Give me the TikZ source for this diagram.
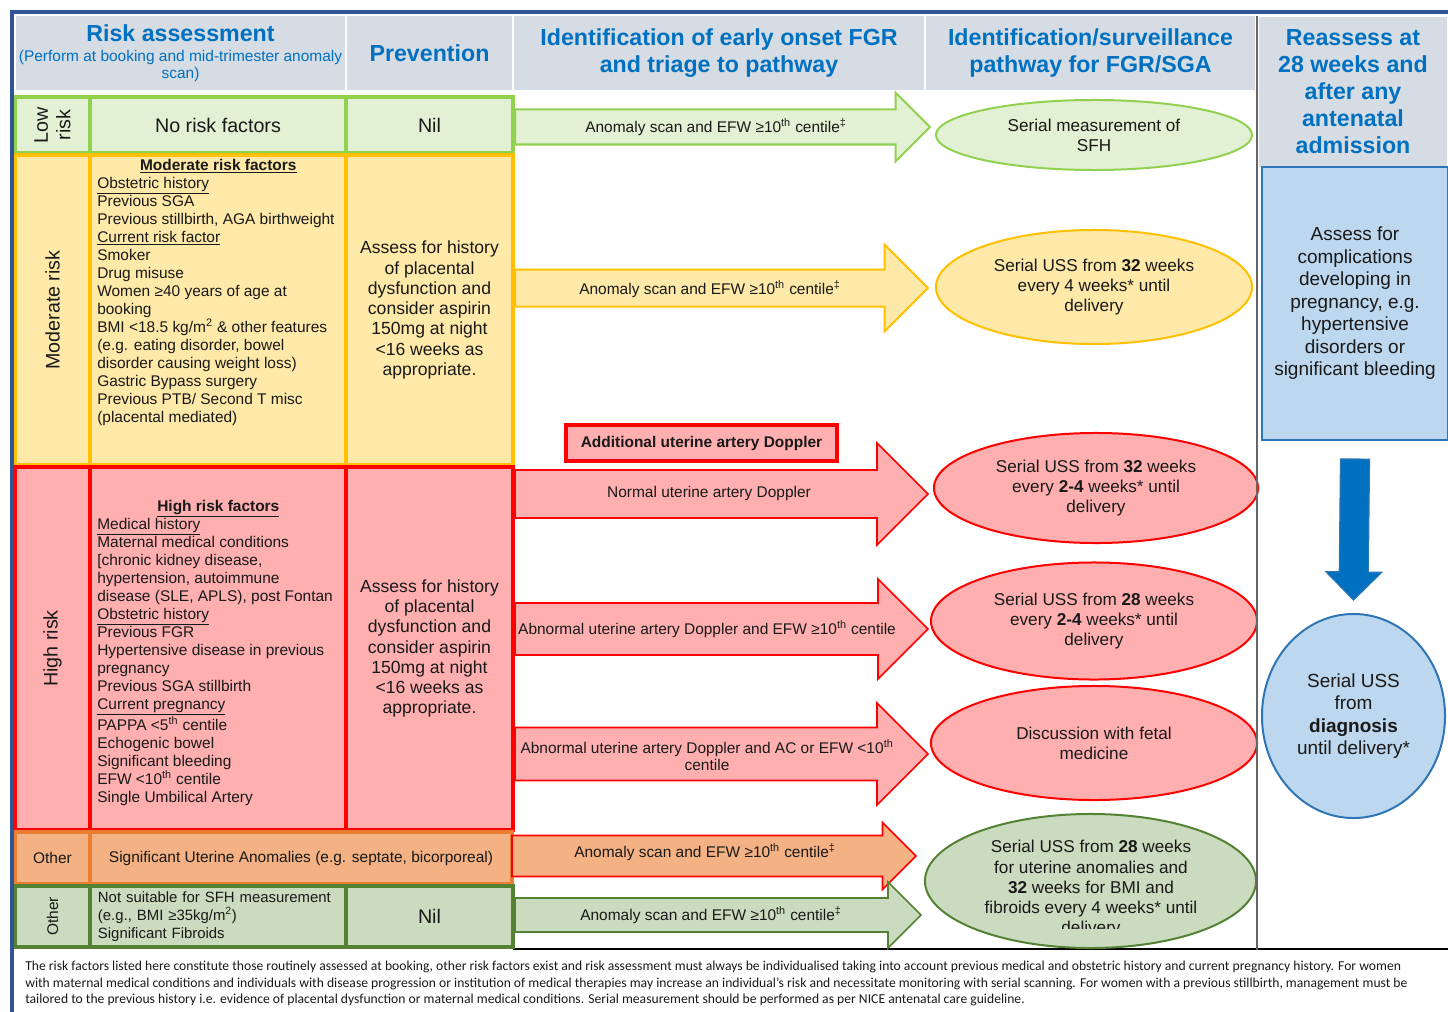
\documentclass[tikz,border=0pt]{standalone}
\usepackage{fontspec}
\setmainfont{Liberation Sans}
\newfontfamily\notefont{Carlito}
\usetikzlibrary{shapes.geometric, calc}

\definecolor{hdrgray}{HTML}{D6DCE4}
\definecolor{hdrblue}{HTML}{0070C0}
\definecolor{frameblue}{HTML}{2F5597}
\definecolor{lowline}{HTML}{92D050}
\definecolor{lowfill}{HTML}{E2F0D3}
\definecolor{modline}{HTML}{FFC000}
\definecolor{modfill}{HTML}{FFE9A8}
\definecolor{highline}{HTML}{FF0000}
\definecolor{highfill}{HTML}{FFAFAF}
\definecolor{othline}{HTML}{ED7D31}
\definecolor{othfill}{HTML}{F4B183}
\definecolor{fibline}{HTML}{548235}
\definecolor{fibfill}{HTML}{CADBBF}
\definecolor{admline}{HTML}{2E75B6}
\definecolor{admfill}{HTML}{BDD7EE}

% block arrow: [style]{tail}{tip}{half shaft}{half head}, sizes in px
\newcommand{\blockarrow}[5][]{%
	\coordinate (ba) at ($(#3)!#5*0.025cm!(#2)$);
	\path[#1] ($(#2)!#4*0.025cm!90:(#3)$) -- ($(ba)!#4*0.025cm!-90:(#2)$)
		-- ($(ba)!#5*0.025cm!-90:(#2)$) -- (#3)
		-- ($(ba)!#5*0.025cm!90:(#2)$) -- ($(ba)!#4*0.025cm!90:(#2)$)
		-- ($(#2)!#4*0.025cm!-90:(#3)$) -- cycle;}

\begin{document}
\begin{tikzpicture}[x = 0.025cm, y = -0.025cm,
		cell/.style={rectangle, line width = 1mm, inner sep = 0pt, align = center, text = black!90, font = \fontsize{11}{12.8}\selectfont},
		lowcell/.style={cell, draw = lowline, fill = lowfill},
		modcell/.style={cell, draw = modline, fill = modfill},
		highcell/.style={cell, draw = highline, fill = highfill},
		othcell/.style={cell, draw = othline, fill = othfill},
		fibcell/.style={cell, draw = fibline, fill = fibfill},
		rowlabel/.style={rotate = 90, font = \fontsize{14}{16}\selectfont},
		header/.style={rectangle, fill = hdrgray, draw = white, line width = 0.4mm, inner sep = 0pt, align = center, text = hdrblue, font = \fontsize{16.5}{19.2}\selectfont\bfseries},
		factors/.style={align = left, inner sep = 0pt, text = black!90, font = \fontsize{11}{12.8}\selectfont},
		advice/.style={font = \fontsize{12.5}{14.4}\selectfont},
		arrowtext/.style={align = center, inner sep = 0pt, text = black!90, font = \fontsize{11}{12}\selectfont},
		oval/.style={ellipse, line width = 0.5mm, inner sep = 0pt, align = center, text = black!90, font = \fontsize{12.2}{14.3}\selectfont},
		admin/.style={line width = 0.5mm, draw = admline, fill = admfill, inner sep = 0pt, align = center, text = black!90, font = \fontsize{13.5}{16}\selectfont},
		lowarrow/.style={draw = lowline, fill = lowfill, line width = 0.5mm, line join = miter},
		modarrow/.style={draw = modline, fill = modfill, line width = 0.5mm, line join = miter},
		higharrow/.style={draw = highline, fill = highfill, line width = 0.4mm, line join = miter},
		otharrow/.style={draw = highline, fill = othfill, line width = 0.4mm, line join = miter},
		fibarrow/.style={draw = fibline, fill = fibfill, line width = 0.4mm, line join = miter},
		admarrow/.style={draw = admline, fill = hdrblue, line width = 0.3mm, line join = miter},
		frame/.style={draw = frameblue, line width = 1mm}
	]
	
	\useasboundingbox (0, 0) rectangle (1448, 1012);
	
	% headers
	\node[header, minimum width = 8.275cm, minimum height = 1.9cm, font = \fontsize{11}{11.5}\selectfont] (hrisk) at (180.5, 53) {{\fontsize{16.5}{19}\selectfont\bfseries Risk assessment}\\[3pt](Perform at booking and mid-trimester anomaly\\scan)};
	\node[header, minimum width = 4.175cm, minimum height = 1.9cm] (hprev) at (429.5, 53) {Prevention};
	\node[header, minimum width = 10.3cm, minimum height = 1.9cm] (hident) at (719, 53) {Identification of early onset FGR\\and triage to pathway};
	\node[header, minimum width = 8.275cm, minimum height = 1.9cm] (hsurv) at (1090.5, 53) {Identification/surveillance\\pathway for FGR/SGA};
	\node[header, minimum width = 4.75cm, minimum height = 3.775cm] (hreas) at (1353, 92) {Reassess at\\28 weeks and\\after any\\antenatal\\admission};
	
	\draw[black, line width = 0.3mm] (513, 949) -- (1448, 949);
	
	% low risk
	\node[lowcell, rowlabel, minimum width = 1.4cm, minimum height = 1.875cm] (lowlab) at (52.5, 125) {Low\\risk};
	\node[lowcell, minimum width = 6.4cm, minimum height = 1.4cm, font = \fontsize{14}{16}\selectfont] (lowfac) at (218, 125) {No risk factors};
	\node[lowcell, minimum width = 4.175cm, minimum height = 1.4cm, font = \fontsize{14}{16}\selectfont] (lownil) at (429.5, 125) {Nil};
	
	% moderate risk
	\node[modcell, rowlabel, minimum width = 7.75cm, minimum height = 1.875cm] (modlab) at (52.5, 310) {Moderate risk};
	\node[modcell, minimum width = 6.4cm, minimum height = 7.75cm] (modfac) at (218, 310) {};
	\node[modcell, advice, minimum width = 4.175cm, minimum height = 7.75cm] (modprev) at (429.5, 310) {Assess for history\\of placental\\dysfunction and\\consider aspirin\\150mg at night\\<16 weeks as\\appropriate.};
	\node[factors, anchor = north west] (modlist) at (97, 159) {\makebox[6.05cm]{\textbf{\underline{Moderate risk factors}}}\\
		\underline{Obstetric history}\\
		Previous SGA\\
		Previous stillbirth, AGA birthweight\\
		\underline{Current risk factor}\\
		Smoker\\
		Drug misuse\\
		Women ≥40 years of age at\\
		booking\\
		BMI <18.5 kg/m\textsuperscript{2} \& other features\\
		(e.g. eating disorder, bowel\\
		disorder causing weight loss)\\
		Gastric Bypass surgery\\
		Previous PTB/ Second T misc\\
		(placental mediated)};
	
	% high risk
	\node[highcell, rowlabel, minimum width = 9.075cm, minimum height = 1.875cm] (highlab) at (52.5, 648.5) {High risk};
	\node[highcell, minimum width = 6.4cm, minimum height = 9.075cm] (highfac) at (218, 648.5) {};
	\node[highcell, advice, minimum width = 4.175cm, minimum height = 9.075cm] (highprev) at (429.5, 648.5) {Assess for history\\of placental\\dysfunction and\\consider aspirin\\150mg at night\\<16 weeks as\\appropriate.};
	\node[factors, anchor = north west] (highlist) at (97, 500) {\makebox[6.05cm]{\textbf{\underline{High risk factors}}}\\
		\underline{Medical history}\\
		Maternal medical conditions\\
		{[}chronic kidney disease,\\
		hypertension, autoimmune\\
		disease (SLE, APLS), post Fontan\\
		\underline{Obstetric history}\\
		Previous FGR\\
		Hypertensive disease in previous\\
		pregnancy\\
		Previous SGA stillbirth\\
		\underline{Current pregnancy}\\
		PAPPA <5\textsuperscript{th} centile\\
		Echogenic bowel\\
		Significant bleeding\\
		EFW <10\textsuperscript{th} centile\\
		Single Umbilical Artery};
	
	% other rows
	\node[othcell, minimum width = 1.875cm, minimum height = 1.3cm] (othlab) at (52.5, 858) {Other};
	\node[othcell, minimum width = 10.55cm, minimum height = 1.3cm] (othfac) at (301, 858) {Significant Uterine Anomalies (e.g. septate, bicorporeal)};
	\node[fibcell, rowlabel, minimum width = 1.525cm, minimum height = 1.875cm, font = \fontsize{11}{13}\selectfont] (fiblab) at (52.5, 916.5) {Other};
	\node[fibcell, minimum width = 6.425cm, minimum height = 1.525cm, inner xsep = 0.2cm, text width = 6.025cm, align = left, font = \fontsize{10.6}{12.8}\selectfont] (fibfac) at (218.5, 916.5) {Not suitable for SFH measurement\\(e.g., BMI ≥35kg/m\textsuperscript{2})\\Significant Fibroids};
	\node[fibcell, minimum width = 4.175cm, minimum height = 1.525cm, font = \fontsize{14}{16}\selectfont] (fibnil) at (429.5, 916.5) {Nil};
	
	% triage arrows
	\coordinate (lowT) at (515, 127);
	\coordinate (lowH) at (930, 127);
	\blockarrow[lowarrow]{lowT}{lowH}{17.5}{34.5}
	\coordinate (modT) at (515, 288);
	\coordinate (modH) at (928, 288);
	\blockarrow[modarrow]{modT}{modH}{18.5}{43.5}
	\coordinate (normT) at (515, 494);
	\coordinate (normH) at (928, 494);
	\blockarrow[higharrow]{normT}{normH}{24}{51}
	\coordinate (abnT) at (515, 629);
	\coordinate (abnH) at (928, 629);
	\blockarrow[higharrow]{abnT}{abnH}{26}{50}
	\coordinate (smallT) at (515, 754);
	\coordinate (smallH) at (928, 754);
	\blockarrow[higharrow]{smallT}{smallH}{26.5}{51}
	\coordinate (uterT) at (512, 856);
	\coordinate (uterH) at (916, 856);
	\blockarrow[otharrow]{uterT}{uterH}{20.5}{33.5}
	\coordinate (fibT) at (515, 915);
	\coordinate (fibH) at (921, 915);
	\blockarrow[fibarrow]{fibT}{fibH}{17}{33}
	
	\node[arrowtext] (lowscan) at (716, 127) {Anomaly scan and EFW ≥10\textsuperscript{th} centile\textsuperscript{‡}};
	\node[arrowtext] (modscan) at (710, 289) {Anomaly scan and EFW ≥10\textsuperscript{th} centile\textsuperscript{‡}};
	\node[rectangle, draw = highline, fill = highfill, line width = 0.8mm, minimum width = 6.775cm, minimum height = 0.9cm, text = black!90, font = \fontsize{11}{13}\selectfont\bfseries] (doppler) at (701.5, 443) {Additional uterine artery Doppler};
	\node[arrowtext] (normscan) at (709, 493) {Normal uterine artery Doppler};
	\node[arrowtext] (abnscan) at (707, 629) {Abnormal uterine artery Doppler and EFW ≥10\textsuperscript{th} centile};
	\node[arrowtext] (smallscan) at (707, 755) {Abnormal uterine artery Doppler and AC or EFW <10\textsuperscript{th}\\centile};
	\node[arrowtext] (uterscan) at (705, 852) {Anomaly scan and EFW ≥10\textsuperscript{th} centile\textsuperscript{‡}};
	\node[arrowtext] (fibscan) at (711, 915) {Anomaly scan and EFW ≥10\textsuperscript{th} centile\textsuperscript{‡}};
	
	% surveillance ovals
	\node[oval, draw = lowline, fill = lowfill, minimum width = 7.9cm, minimum height = 1.75cm] (lowsfh) at (1094, 135) {Serial measurement of\\SFH};
	\node[oval, draw = modline, fill = modfill, minimum width = 7.9cm, minimum height = 2.85cm] (moduss) at (1094, 287) {Serial USS from \textbf{32} weeks\\every 4 weeks* until\\delivery};
	\node[oval, draw = highline, fill = highfill, minimum width = 8.1cm, minimum height = 2.75cm] (normuss) at (1096, 488) {Serial USS from \textbf{32} weeks\\every \textbf{2-4} weeks* until\\delivery};
	\node[oval, draw = highline, fill = highfill, minimum width = 8.15cm, minimum height = 2.925cm] (abnuss) at (1094, 621) {Serial USS from \textbf{28} weeks\\every \textbf{2-4} weeks* until\\delivery};
	\node[oval, draw = highline, fill = highfill, minimum width = 8.15cm, minimum height = 2.85cm] (fetalmed) at (1094, 743) {Discussion with fetal\\medicine};
	\node[oval, draw = fibline, fill = fibfill, minimum width = 8.275cm, minimum height = 3.35cm] (fibuss) at (1090.5, 881) {};
	\begin{scope}
		\clip (900, 800) rectangle (1270, 928);
		\node[arrowtext, font = \fontsize{12.2}{14.4}\selectfont] (fibusstext) at (1091, 889) {Serial USS from \textbf{28} weeks\\for uterine anomalies and\\\textbf{32} weeks for BMI and\\fibroids every 4 weeks* until\\delivery};
	\end{scope}
	
	% reassess column
	\node[admin, rectangle, minimum width = 4.65cm, minimum height = 6.825cm] (admcheck) at (1355, 303.5) {Assess for\\complications\\developing in\\pregnancy, e.g.\\hypertensive\\disorders or\\significant bleeding};
	\node[admin, ellipse, minimum width = 4.575cm, minimum height = 5.1cm] (admuss) at (1353.5, 716) {Serial USS\\from\\\textbf{diagnosis}\\until delivery*};
	\coordinate (admT) at ([yshift = -0.45cm]admcheck.south);
	\coordinate (admH) at ([yshift = 0.325cm]admuss.north);
	\blockarrow[admarrow]{admT}{admH}{14.5}{28}
	
	\draw[black!60, line width = 0.5mm] (hreas.north west) -- ++(0, 934);
	
	% footnote
	\node[anchor = north west, align = left, inner sep = 0pt, text = black!90, font = \notefont\fontsize{9.7}{11.7}\selectfont] (note) at (25, 961) {The risk factors listed here constitute those routinely assessed at booking, other risk factors exist and risk assessment must always be individualised taking into account previous medical and obstetric history and current pregnancy history. For women\\
		with maternal medical conditions and individuals with disease progression or institution of medical therapies may increase an individual’s risk and necessitate monitoring with serial scanning. For women with a previous stillbirth, management must be\\
		tailored to the previous history i.e. evidence of placental dysfunction or maternal medical conditions. Serial measurement should be performed as per NICE antenatal care guideline.};
	
	% frame
	\draw[frame] (10, 12) -- (1448, 12);
	\draw[frame] (12, 10) -- (12, 1012);
	
\end{tikzpicture}
\end{document}
